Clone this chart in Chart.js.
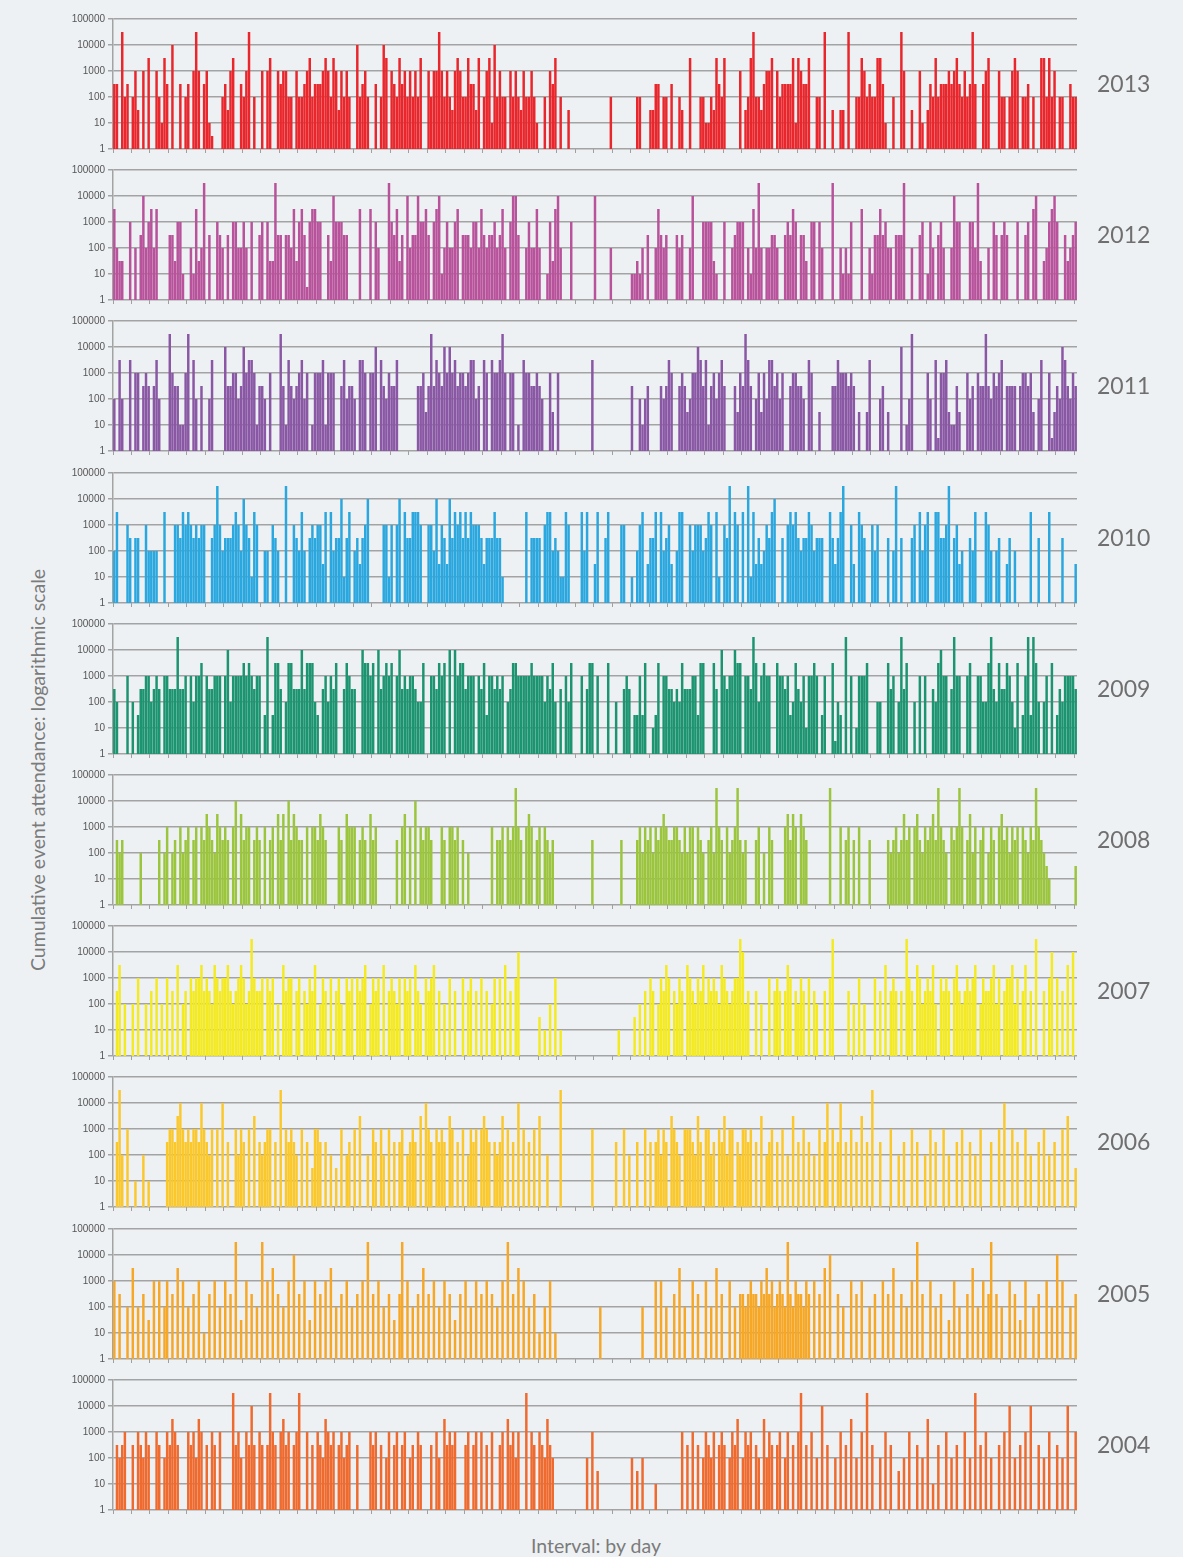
<!DOCTYPE html>
<html>
<head>
<meta charset="utf-8">
<script src="https://cdn.jsdelivr.net/npm/chart.js@4.4.1/dist/chart.umd.min.js"></script>
<style>
  body { margin: 0; background: #eef1f4; font-family: Lato, "Open Sans", sans-serif; }
  #wrap { position: relative; width: 1183px; height: 1557px; overflow: hidden; }
  canvas { position: absolute; left: 0; }
  .year { position: absolute; left: 1097px; font-size: 23px; color: #6f6f6f; line-height: 1; }
  #ytitle { position: absolute; left: 37px; top: 770px; transform: translate(-50%, -50%) rotate(-90deg);
            white-space: nowrap; font-size: 19.5px; color: #7b7b7b; }
  #xtitle { position: absolute; left: 596px; top: 1545px; transform: translate(-50%, -50%);
            white-space: nowrap; font-size: 19.5px; color: #7b7b7b; }
</style>
</head>
<body>
<div id="wrap">
  <div id="ytitle">Cumulative event attendance: logarithmic scale</div>
  <div id="xtitle">Interval: by day</div>
</div>
<script>
// one character per day: '.' = no event, otherwise half-decade level (value = 10^(level/2))
// first string = days 0..180, second = days 181..364
const years = ['2013', '2012', '2011', '2010', '2009', '2008', '2007', '2006', '2005', '2004'];
const colors = ['#e9262b', '#b7529b', '#8957a4', '#2aa7de', '#1c9470', '#9bc53d', '#f4ea22', '#fbc82c', '#f6a726', '#ee6a2e'];
const tickValues = [1, 10, 100, 1000, 10000, 100000];

const y2013 = ["55.945.463.6.7..64275.8..5.45.696.5621...45367..5469.4..6.67..656644.644567455567647636464..84564..5.487.654756464647..64669646436764475537.467284644.64643644642..4.657.4..3",
  ".......4.........44...3355.44.5..43..7...4422437547.....6.34794435667.6455557276557..44.9..3..33.9..447645447752..4..96..3..62.3547455565675464595..567...644.4676.445.4..774746.44..544"];
const y2012 = ["7433..6.4.5846747....553662..427349.5..654.5.664464.6..56.633955.55473675167766..53866655....7...7.64...965735.845586675.6782464467.55546647545564574.6885..464474..263784...6.......",
  ".8.....4.......22324.5..47545...545..48...666632..6..45666.427494.44554..56576.553.66.64...9..42426...7..425575644.5559..4..56.264.564..4866...66493..4.65.565...6..56.78..346786..53456"];
const y2011 = ["4.74..7.66.565.574...96552269.74.5..47....8556645867762554.6...95275456746.266672666..574554.776.668.7546557.......556359576586867566567745.76.766796.66.2.76655654..63.6",
  "7..............5..4245....54576..565346687572564675...5365975.46364775646..566554.76..3....557666565.3..37...45.3....8.249.....64.7166732253..645.6559546567.5555.566563.47..61354875465"];
const y2010 = ["47...65.55..64444..7...665767656566..569645556764865276..44.654..9..65474.5656637.74558257.453568.....6626.68.7557776..66483653857675757666535557552........7.5555.6774542276....747.",
  ".37..57....66..2.467.3557.74563.477..646664576.72.659.76.7.92735346578..5.67675455764555..753579..63.765..646...5.49.5...56.7467..775569.5634..547...764.45..35.4.....7..5...7....5....3"];
const y2009 = ["54...6.4.355664565.665559556.64667.655666.68466667676566.39.3775.4775558577743.564657..57655..87767.856767.68565665447..665767.8.86775666.6573665656.4577666667666646574.5.647...6.57",
  "7.6...7..4..565.33637..237.6655454755566377...75.86566877.6659746766..7665634754626676.36..7143.9.6.26667...44..756.4957..4.6.6..547866.5966..67..6644795475576427.3693974.46.7.35466665"];
const y2008 = [".545......4......5.46.45.6456.56.65765476565.68.7566.565.6.56.757.857655.6.665765....65.7666.565.756.......5.67.6.8.65665...65.6656.5.4........6.556.656965.676.56.6545.............",
  "5..........5.....5646564656765566546466.654.564965.64569545...56.4.65....67576.765........9...6.56.5.6...5......545645756.6754656759654.65696.5746.56.465.67564656.65465965432.........3"];
const y2007 = [".57.4..4.6..4.5.6.4.6.5.7.45.6566756547656675456764596556.656.4.7566.56.54657.465.6.564.656.6567.4656.7.56546.656.754.6567.5.4.6.5..6.56.5.6.5.46.6.7.5.68.......3.2.4.6.2...........",
  "..........2.....3.4.5.65.46576.5465.765465746565476545669845..5.4..6.565.576.5465.6.54..5.69.....5.4.6.4...6.5.7.565.5.965.76456574.6565.675456567.46556746.566746.57.5.9..5.68.6.5.7.8.5"];
const y2006 = [".594.6..2..4.2......566578656566586546.6.8.5..6465.6.7.54566.5.9.65654.6.5.3665.5.4.3.6.45.6.7..4.65.64.6.5.56.4565.7.865.6565.76.5.6.4656.6765.5457.6.5.8.6.5.6.7..4....9..........",
  "6........5..6.4..5..6.5.56465.7654.6665475.6645.657466.546656.5.7.456.5.6.4.7.5.6.5.4.6.58.6.58.5.6.5.7.5.9..5...6..4.5..6.5..4.6.5..6.4..5.6..5.4.6...5..6.8..6.5..6.4..5.6.4.5..6.7..3"];
const y2005 = ["6.5..4.7.4.5.3.6.6.46.5.7.6.4.5.6.2.5.6.4.6.5.9.3.6.5.4.9.6.7.5.4.6.8.5.6.3.6.5.6.7.4.5.6.4.5.6.9.5.6.4.5.3.59.6.4.5.7.5.6.4.6.5.3.5.6.4.6.5.6.5.4.6.9.5.7.6.4.5.2.4.6.2.............",
  "...4...............4....6.6.4..5.7.4..6.5..6.4.7.5..6.4.554565546575645654954655465.6.5.7.8..5.4..6.5.6..4.5..6.5.7..5.4.6.9.5..6.4.5..3.6.4..5.7.4.6.59.5.4..6.5.3.6..4.5..6.4.8.6..4.5"];
const y2004 = [".5456..5.65465..65.465765...656476.5.65.6....9564.6585.65.5965.6756.569..6.5.6547656.56456..5....656.5.46.56.56.45.65...5.64.75656...56.56.6.5.6..56.75646..9.65.654754............4.",
  "6.3............4.3.4....2.........6.5.6.5.46546.565.4657.4656.54.7465.56.46.5.69.5.6.4.8.5..4.6.5.7.4.6.9.5..4.6.5..3.4.6..5.4.7.2.5..6.4.5..6.4.9.5.6.4..5.6.8.4.5.6.8..5.4.6..5.4.8..6"];

const series = [y2013, y2012, y2011, y2010, y2009, y2008, y2007, y2006, y2005, y2004];

function decode(halves) {
  const s = halves[0].padEnd(181, '.').slice(0, 181) + halves[1].padEnd(184, '.').slice(0, 184);
  return [...s].map(ch => ch === '.' ? null : Math.pow(10, parseInt(ch, 36) / 2));
}

const days = Array.from({ length: 365 }, (_, i) => i + 1);
const wrap = document.getElementById('wrap');
const PAD_TOP = 6, PLOT_H = 136, X_AXIS_H = 6;

years.forEach((year, k) => {
  const plotTop = 16 + k * 151.2;
  const canvas = document.createElement('canvas');
  canvas.width = 1183;
  canvas.height = PAD_TOP + PLOT_H + X_AXIS_H;
  canvas.style.top = Math.round(plotTop - PAD_TOP) + 'px';
  wrap.appendChild(canvas);

  const label = document.createElement('div');
  label.className = 'year';
  label.textContent = year;
  label.style.top = Math.round(plotTop + PLOT_H / 2 - 12) + 'px';
  wrap.appendChild(label);

  new Chart(canvas, {
    type: 'bar',
    data: {
      labels: days,
      datasets: [{
        data: decode(series[k]),
        backgroundColor: colors[k],
        borderWidth: 0,
        barPercentage: 0.94,
        categoryPercentage: 1
      }]
    },
    options: {
      responsive: false,
      animation: false,
      layout: { padding: { top: PAD_TOP, right: 106, bottom: 0, left: 0 } },
      plugins: { legend: { display: false }, tooltip: { enabled: false } },
      scales: {
        x: {
          ticks: { display: false, autoSkip: false },
          grid: {
            drawOnChartArea: false,
            tickLength: 4,
            color: ctx => (ctx.index % 7 === 0 ? '#a0a0a0' : 'rgba(0,0,0,0)')
          },
          border: { display: false },
          afterFit: s => { s.height = X_AXIS_H; }
        },
        y: {
          type: 'logarithmic',
          min: 1,
          max: 100000,
          afterBuildTicks: s => { s.ticks = tickValues.map(v => ({ value: v })); },
          ticks: {
            callback: v => String(v),
            font: { size: 10, family: 'Liberation Sans' },
            color: '#555',
            padding: 3
          },
          grid: { color: '#a3a3a3', lineWidth: 1.5, tickLength: 5 },
          border: { color: '#a3a3a3', width: 1.5 },
          afterFit: s => { s.width = 113; }
        }
      }
    }
  });
});
</script>
</body>
</html>
